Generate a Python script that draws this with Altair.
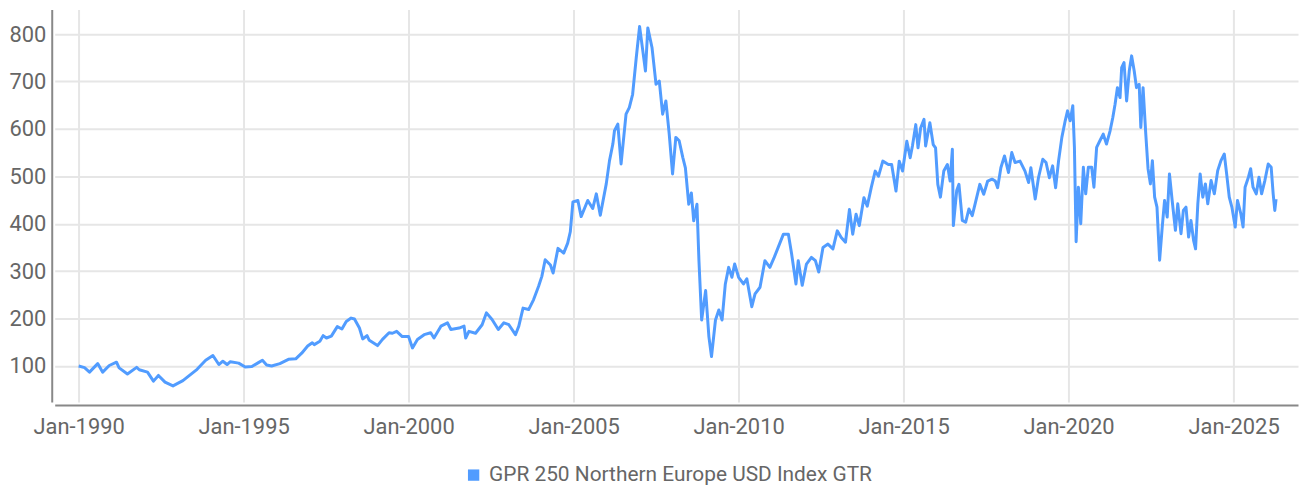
import altair as alt
import pandas as pd

SERIES_NAME = "GPR 250 Northern Europe USD Index GTR"

years = [
    1990.00, 1990.18, 1990.33, 1990.58, 1990.73, 1990.93, 1991.15, 1991.23, 1991.48, 1991.76,
    1991.84, 1992.09, 1992.27, 1992.42, 1992.62, 1992.86, 1993.16, 1993.34, 1993.59, 1993.85,
    1994.07, 1994.25, 1994.37, 1994.50, 1994.60, 1994.85, 1995.05, 1995.25, 1995.45, 1995.57,
    1995.70, 1995.85, 1996.10, 1996.36, 1996.58, 1996.76, 1996.94, 1997.08, 1997.14, 1997.31,
    1997.41, 1997.51, 1997.66, 1997.84, 1997.98, 1998.11, 1998.26, 1998.36, 1998.51, 1998.61,
    1998.74, 1998.81, 1999.06, 1999.21, 1999.41, 1999.51, 1999.64, 1999.81, 2000.00, 2000.12,
    2000.27, 2000.47, 2000.67, 2000.77, 2000.98, 2001.18, 2001.28, 2001.53, 2001.68, 2001.73,
    2001.83, 2002.03, 2002.23, 2002.36, 2002.53, 2002.72, 2002.89, 2003.04, 2003.24, 2003.34,
    2003.47, 2003.64, 2003.79, 2003.94, 2004.04, 2004.14, 2004.30, 2004.38, 2004.53, 2004.70,
    2004.82, 2004.90, 2004.98, 2005.13, 2005.23, 2005.43, 2005.58, 2005.69, 2005.81, 2005.99,
    2006.09, 2006.19, 2006.24, 2006.34, 2006.44, 2006.59, 2006.69, 2006.79, 2006.90, 2007.00,
    2007.10, 2007.18, 2007.25, 2007.38, 2007.50, 2007.60, 2007.70, 2007.80, 2007.90, 2008.00,
    2008.10, 2008.20, 2008.31, 2008.39, 2008.49, 2008.57, 2008.64, 2008.74, 2008.80, 2008.88,
    2009.00, 2009.10, 2009.18, 2009.30, 2009.40, 2009.50, 2009.60, 2009.70, 2009.80, 2009.88,
    2010.00, 2010.15, 2010.25, 2010.40, 2010.50, 2010.65, 2010.80, 2010.95, 2011.08, 2011.20,
    2011.36, 2011.51, 2011.61, 2011.74, 2011.81, 2011.93, 2012.06, 2012.21, 2012.33, 2012.43,
    2012.56, 2012.71, 2012.86, 2012.99, 2013.11, 2013.24, 2013.36, 2013.46, 2013.56, 2013.66,
    2013.80, 2013.90, 2014.02, 2014.14, 2014.24, 2014.37, 2014.54, 2014.64, 2014.77, 2014.87,
    2014.97, 2015.10, 2015.20, 2015.27, 2015.37, 2015.44, 2015.52, 2015.62, 2015.67, 2015.80,
    2015.90, 2015.97, 2016.04, 2016.12, 2016.22, 2016.33, 2016.41, 2016.48, 2016.51, 2016.61,
    2016.68, 2016.78, 2016.88, 2016.98, 2017.08, 2017.18, 2017.31, 2017.43, 2017.55, 2017.68,
    2017.78, 2017.85, 2017.95, 2018.06, 2018.18, 2018.28, 2018.38, 2018.53, 2018.68, 2018.79,
    2018.86, 2018.99, 2019.09, 2019.22, 2019.32, 2019.42, 2019.52, 2019.61, 2019.70, 2019.80,
    2019.90, 2019.97, 2020.05, 2020.13, 2020.18, 2020.23, 2020.30, 2020.37, 2020.45, 2020.52,
    2020.60, 2020.70, 2020.77, 2020.85, 2020.95, 2021.05, 2021.15, 2021.26, 2021.34, 2021.41,
    2021.48, 2021.56, 2021.61, 2021.68, 2021.76, 2021.84, 2021.91, 2021.99, 2022.06, 2022.14,
    2022.19, 2022.26, 2022.34, 2022.41, 2022.48, 2022.54, 2022.61, 2022.68, 2022.76, 2022.84,
    2022.91, 2022.99, 2023.06, 2023.14, 2023.24, 2023.31, 2023.41, 2023.48, 2023.56, 2023.64,
    2023.71, 2023.79, 2023.85, 2023.92, 2023.99, 2024.07, 2024.15, 2024.22, 2024.32, 2024.42,
    2024.52, 2024.62, 2024.72, 2024.79, 2024.87, 2024.95, 2025.05, 2025.12, 2025.22, 2025.29,
    2025.35, 2025.45, 2025.52, 2025.59, 2025.69, 2025.77, 2025.85, 2025.95, 2026.05, 2026.14,
    2026.20, 2026.25, 2026.29,
]

values = [
    100, 96.5, 87, 105, 87, 101, 108, 96, 83, 97,
    92, 87, 68, 80, 66, 58, 69, 79, 93, 112,
    122, 103, 110, 103, 109, 106, 98, 99, 107, 112,
    102, 100, 105, 114, 115, 127, 142, 149, 145, 152,
    164, 159, 163, 183, 178, 194, 201, 199, 180, 157,
    164, 154, 143, 156, 170, 169, 173, 162, 162, 138,
    156, 166, 170, 159, 184, 191, 177, 180, 184, 159,
    173, 169, 187, 212, 198, 177, 191, 187, 166, 184,
    222, 219, 240, 268, 289, 324, 313, 296, 348, 338,
    359, 383, 446, 449, 415, 449, 432, 463, 418, 484,
    533, 568, 596, 610, 526, 631, 645, 673, 750, 816,
    764, 722, 813, 771, 694, 701, 631, 659, 589, 505,
    582, 575, 540, 518, 441, 465, 406, 441, 322, 197,
    259, 162, 120, 197, 218, 197, 273, 308, 287, 315,
    287, 273, 284, 225, 252, 266, 322, 308, 329, 350,
    378, 378, 336, 273, 322, 270, 315, 329, 322, 298,
    350, 357, 347, 385, 371, 361, 430, 378, 420, 396,
    455, 437, 476, 511, 500, 532, 525, 525, 469, 532,
    511, 574, 539, 564, 609, 560, 602, 620, 564, 613,
    567, 560, 483, 456, 511, 525, 490, 557, 396, 470,
    483, 407, 403, 431, 417, 445, 483, 462, 490, 494,
    490, 476, 518, 543, 508, 550, 529, 532, 511, 487,
    518, 452, 497, 536, 529, 497, 522, 476, 533, 582,
    617, 638, 617, 649, 561, 362, 477, 400, 519, 463,
    519, 519, 477, 561, 575, 589, 568, 596, 624, 652,
    687, 666, 729, 740, 659, 722, 754, 722, 687, 694,
    603, 687, 589, 516, 484, 533, 456, 435, 323, 393,
    449, 414, 505, 449, 386, 442, 379, 428, 435, 372,
    407, 365, 347, 442, 505, 456, 484, 442, 491, 463,
    512, 533, 547, 505, 456, 435, 393, 449, 421, 393,
    477, 498, 516, 477, 463, 498, 463, 491, 526, 519,
    463, 428, 452,
]

tick_years = [1990, 1995, 2000, 2005, 2010, 2015, 2020, 2025]
y_ticks = [100, 200, 300, 400, 500, 600, 700, 800]


def to_date(y):
    base = pd.Timestamp(year=int(y), month=1, day=1)
    nxt = pd.Timestamp(year=int(y) + 1, month=1, day=1)
    return (base + (nxt - base) * (y - int(y))).normalize()


df = pd.DataFrame({
    "date": [to_date(y) for y in years],
    "value": values,
    "series": SERIES_NAME,
})

FONT = "Roboto"
TEXT = "#666666"
BLUE = "#519cff"

chart = alt.Chart(df).mark_line(strokeWidth=3, clip=True, strokeJoin="round").encode(
    x=alt.X(
        "date:T",
        scale=alt.Scale(domain=[alt.DateTime(year=1989, month=4, date=11),
                                alt.DateTime(year=2026, month=12, date=15)]),
        axis=alt.Axis(
            title=None,
            format="%b-%Y",
            values=[alt.DateTime(year=y, month=1, date=1) for y in tick_years],
            grid=True,
            ticks=False,
            offset=3,
            labelPadding=12,
        ),
    ),
    y=alt.Y(
        "value:Q",
        scale=alt.Scale(domain=[23.9, 851.8], nice=False, zero=False),
        axis=alt.Axis(
            title=None,
            values=y_ticks,
            grid=True,
            ticks=False,
            offset=3,
            labelPadding=6,
        ),
    ),
    color=alt.Color(
        "series:N",
        scale=alt.Scale(range=[BLUE]),
        legend=alt.Legend(
            title=None,
            orient="none",
            legendX=411,
            legendY=458,
            symbolType="square",
            symbolSize=130,
            symbolFillColor=BLUE,
            symbolStrokeWidth=0,
            labelOffset=5,
            labelLimit=1000,
            padding=0,
        ),
    ),
).properties(
    width=1251,
    height=395,
    autosize=alt.AutoSizeParams(type="none"),
    padding={"left": 47, "top": 0, "right": 2, "bottom": 88},
).configure_view(
    stroke=None
).configure_axis(
    labelFont=FONT,
    labelFontSize=22,
    labelColor=TEXT,
    domainColor="#888888",
    domainWidth=2,
    gridColor="#e6e6e6",
    gridWidth=2,
).configure_legend(
    labelFont=FONT,
    labelFontSize=21,
    labelColor=TEXT,
)

chart.save("out.html", embed_options={"renderer": "svg", "actions": False})
